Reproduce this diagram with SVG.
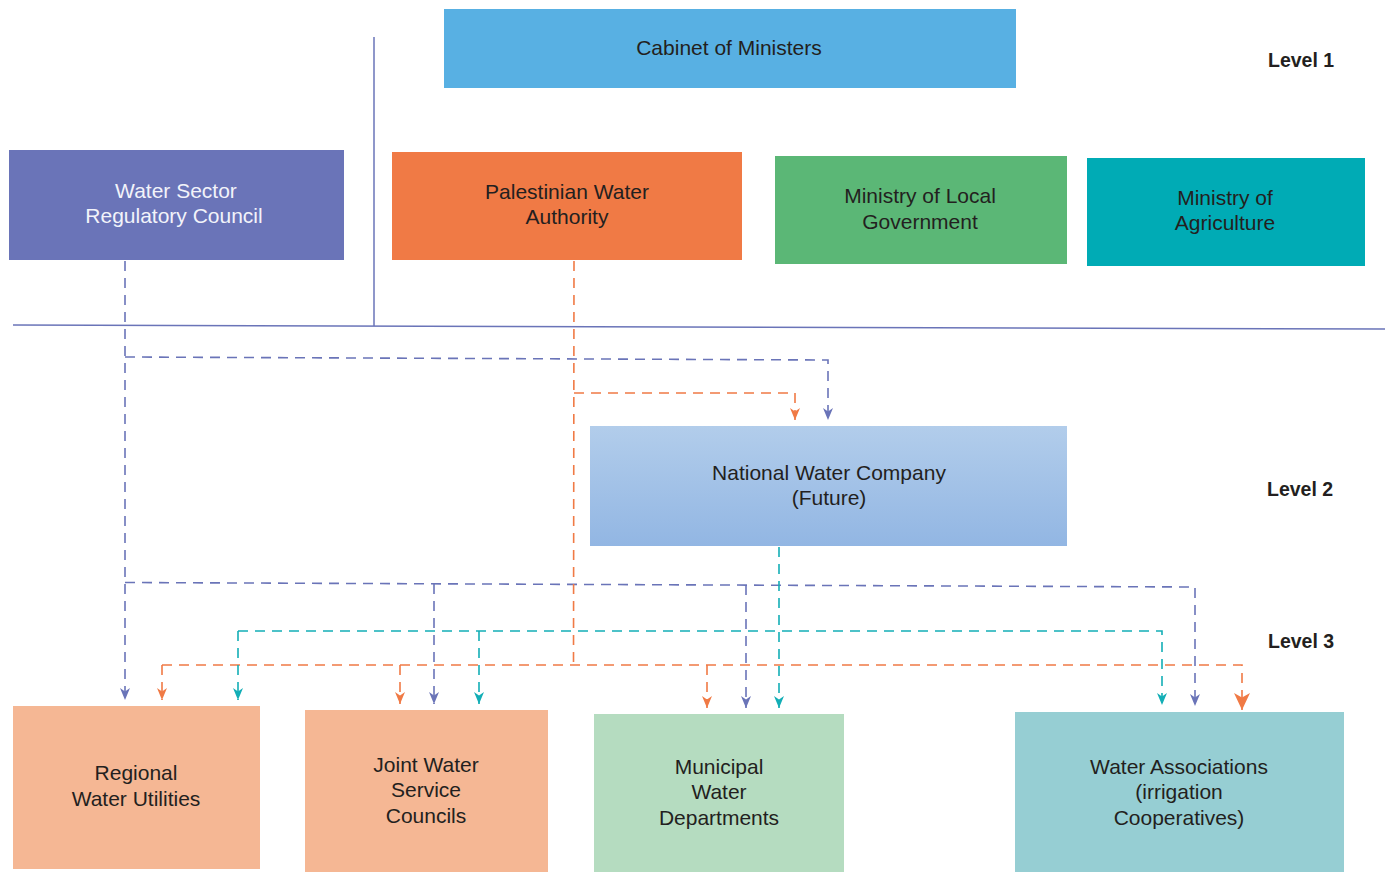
<svg xmlns="http://www.w3.org/2000/svg" width="1386" height="873" viewBox="0 0 1386 873">
<style>
.t{font-family:"Liberation Sans",Arial,sans-serif;font-size:21px;fill:#231f20;text-anchor:middle}
.w{fill:#f2f3fa}
.lvl{font-family:"Liberation Sans",Arial,sans-serif;font-size:19.5px;font-weight:bold;fill:#231f20}
.solid{stroke:#6a74b8;stroke-width:1.5;fill:none}
.d{fill:none;stroke-width:1.6;stroke-dasharray:10 7}
.b{stroke:#6a74b8}
.o{stroke:#f07a45}
.c{stroke:#13aeb6}
</style>
<defs>
<linearGradient id="g" x1="0" y1="0" x2="0" y2="1">
<stop offset="0" stop-color="#b2cdeb"/>
<stop offset="1" stop-color="#92b6e3"/>
</linearGradient>
<marker id="ab" markerUnits="userSpaceOnUse" markerWidth="14" markerHeight="12" refX="12" refY="6" orient="auto" viewBox="0 0 14 12"><path d="M0,1 L12,6 L0,11 L3.5,6 Z" fill="#6a74b8"/></marker>
<marker id="ao" markerUnits="userSpaceOnUse" markerWidth="14" markerHeight="12" refX="12" refY="6" orient="auto" viewBox="0 0 14 12"><path d="M0,1 L12,6 L0,11 L3.5,6 Z" fill="#f07a45"/></marker>
<marker id="ac" markerUnits="userSpaceOnUse" markerWidth="14" markerHeight="12" refX="12" refY="6" orient="auto" viewBox="0 0 14 12"><path d="M0,1 L12,6 L0,11 L3.5,6 Z" fill="#13aeb6"/></marker>
<marker id="aoL" markerUnits="userSpaceOnUse" markerWidth="20" markerHeight="18" refX="17" refY="9" orient="auto" viewBox="0 0 20 18"><path d="M0,1 L17,9 L0,17 L4.5,9 Z" fill="#f07a45"/></marker>
</defs>

<g id="lines">
<line class="solid" x1="374" y1="37" x2="374" y2="326"/>
<line class="solid" x1="13" y1="325" x2="1385" y2="329"/>
</g>

<g id="connectors">
<path class="d b" d="M125,261 V700" marker-end="url(#ab)"/>
<path class="d b" d="M125,357 L828,360 V420" marker-end="url(#ab)"/>
<path class="d b" d="M125,582.5 L1195,587 V706" marker-end="url(#ab)"/>
<path class="d b" d="M434,584 V704" marker-end="url(#ab)"/>
<path class="d b" d="M746,585 V708" marker-end="url(#ab)"/>
<path class="d o" d="M574,261 L573.5,665"/>
<path class="d o" d="M574,393 H795 V420" marker-end="url(#ao)"/>
<path class="d o" d="M162,665 H1242 V710" marker-end="url(#aoL)"/>
<path class="d o" d="M162,665 V700" marker-end="url(#ao)"/>
<path class="d o" d="M400,665 V704" marker-end="url(#ao)"/>
<path class="d o" d="M707,665 V708" marker-end="url(#ao)"/>
<path class="d c" d="M779,547 V708" marker-end="url(#ac)"/>
<path class="d c" d="M238,631 H1162 V705" marker-end="url(#ac)"/>
<path class="d c" d="M238,631 V700" marker-end="url(#ac)"/>
<path class="d c" d="M479,631 V704" marker-end="url(#ac)"/>
</g>

<g id="cabinet">
<rect x="444" y="9" width="572" height="79" fill="#58b0e3"/>
<text class="t" x="729" y="55">Cabinet of Ministers</text>
</g>
<g id="wsrc">
<rect x="9" y="150" width="335" height="110" fill="#6a74b8"/>
<text class="t w" x="176" y="198">Water Sector</text>
<text class="t w" x="174" y="223">Regulatory Council</text>
</g>
<g id="pwa">
<rect x="392" y="152" width="350" height="108" fill="#f07a45"/>
<text class="t" x="567" y="199">Palestinian Water</text>
<text class="t" x="567" y="224">Authority</text>
</g>
<g id="molg">
<rect x="775" y="156" width="292" height="108" fill="#5bb776"/>
<text class="t" x="920" y="203">Ministry of Local</text>
<text class="t" x="920" y="229">Government</text>
</g>
<g id="moa">
<rect x="1087" y="158" width="278" height="108" fill="#00abb5"/>
<text class="t" x="1225" y="205">Ministry of</text>
<text class="t" x="1225" y="230">Agriculture</text>
</g>
<g id="nwc">
<rect x="590" y="426" width="477" height="120" fill="url(#g)"/>
<text class="t" x="829" y="480">National Water Company</text>
<text class="t" x="829" y="505">(Future)</text>
</g>
<g id="rwu">
<rect x="13" y="706" width="247" height="163" fill="#f5b794"/>
<text class="t" x="136" y="780">Regional</text>
<text class="t" x="136" y="806">Water Utilities</text>
</g>
<g id="jwsc">
<rect x="305" y="710" width="243" height="162" fill="#f5b794"/>
<text class="t" x="426" y="772">Joint Water</text>
<text class="t" x="426" y="797">Service</text>
<text class="t" x="426" y="823">Councils</text>
</g>
<g id="mwd">
<rect x="594" y="714" width="250" height="158" fill="#b5dcc0"/>
<text class="t" x="719" y="774">Municipal</text>
<text class="t" x="719" y="799">Water</text>
<text class="t" x="719" y="825">Departments</text>
</g>
<g id="wa">
<rect x="1015" y="712" width="329" height="160" fill="#96ced3"/>
<text class="t" x="1179" y="774">Water Associations</text>
<text class="t" x="1179" y="799">(irrigation</text>
<text class="t" x="1179" y="825">Cooperatives)</text>
</g>

<g id="levels">
<text class="lvl" x="1268" y="67">Level 1</text>
<text class="lvl" x="1267" y="496">Level 2</text>
<text class="lvl" x="1268" y="648">Level 3</text>
</g>
</svg>
